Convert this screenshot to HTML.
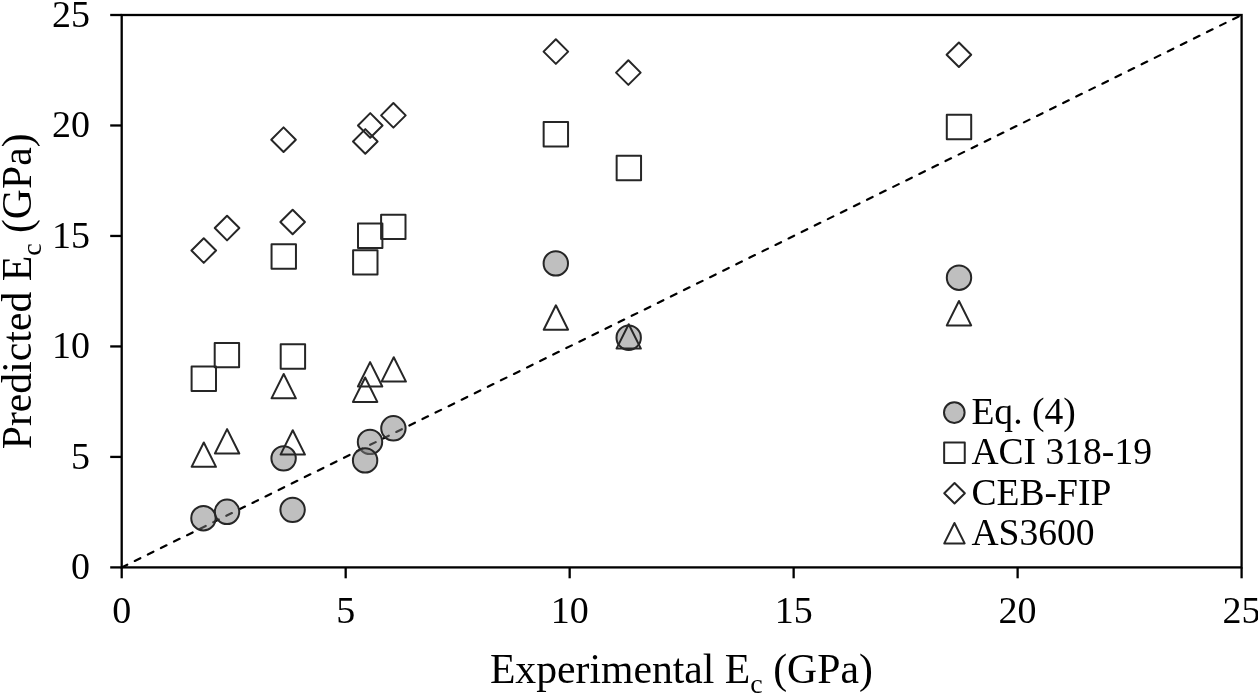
<!DOCTYPE html>
<html><head><meta charset="utf-8"><style>
html,body{margin:0;padding:0;background:#fff;overflow:hidden;}
svg{display:block;will-change:transform;}
text{font-family:"Liberation Serif",serif;fill:#000;}
.t{font-size:38px;}
.lg{font-size:37.6px;}
.ti{font-size:41.7px;}
.sub{font-size:28px;}
</style></head><body>
<svg width="1258" height="695" viewBox="0 0 1258 695">
<line x1="121.70" y1="567.40" x2="1241.60" y2="15.00" stroke="#000" stroke-width="2.2" stroke-linecap="round" stroke-dasharray="6.2 8.38"/>
<circle cx="203.45" cy="518.20" r="12.20" fill="rgba(128,128,128,0.5)" stroke="#262626" stroke-width="2.0"/>
<circle cx="227.05" cy="511.80" r="12.20" fill="rgba(128,128,128,0.5)" stroke="#262626" stroke-width="2.0"/>
<circle cx="283.60" cy="458.35" r="12.20" fill="rgba(128,128,128,0.5)" stroke="#262626" stroke-width="2.0"/>
<circle cx="292.60" cy="509.85" r="12.20" fill="rgba(128,128,128,0.5)" stroke="#262626" stroke-width="2.0"/>
<circle cx="370.00" cy="441.90" r="12.20" fill="rgba(128,128,128,0.5)" stroke="#262626" stroke-width="2.0"/>
<circle cx="365.10" cy="460.40" r="12.20" fill="rgba(128,128,128,0.5)" stroke="#262626" stroke-width="2.0"/>
<circle cx="393.40" cy="428.30" r="12.20" fill="rgba(128,128,128,0.5)" stroke="#262626" stroke-width="2.0"/>
<circle cx="555.80" cy="263.40" r="12.20" fill="rgba(128,128,128,0.5)" stroke="#262626" stroke-width="2.0"/>
<circle cx="628.70" cy="337.70" r="12.20" fill="rgba(128,128,128,0.5)" stroke="#262626" stroke-width="2.0"/>
<circle cx="959.00" cy="277.70" r="12.20" fill="rgba(128,128,128,0.5)" stroke="#262626" stroke-width="2.0"/>
<rect x="191.60" y="366.55" width="24.40" height="24.40" fill="none" stroke="#262626" stroke-width="2.0" stroke-linejoin="round"/>
<rect x="214.70" y="342.90" width="24.40" height="24.40" fill="none" stroke="#262626" stroke-width="2.0" stroke-linejoin="round"/>
<rect x="271.55" y="244.25" width="24.40" height="24.40" fill="none" stroke="#262626" stroke-width="2.0" stroke-linejoin="round"/>
<rect x="280.70" y="344.30" width="24.40" height="24.40" fill="none" stroke="#262626" stroke-width="2.0" stroke-linejoin="round"/>
<rect x="353.10" y="250.20" width="24.40" height="24.40" fill="none" stroke="#262626" stroke-width="2.0" stroke-linejoin="round"/>
<rect x="358.00" y="223.50" width="24.40" height="24.40" fill="none" stroke="#262626" stroke-width="2.0" stroke-linejoin="round"/>
<rect x="381.10" y="214.70" width="24.40" height="24.40" fill="none" stroke="#262626" stroke-width="2.0" stroke-linejoin="round"/>
<rect x="543.65" y="122.05" width="24.40" height="24.40" fill="none" stroke="#262626" stroke-width="2.0" stroke-linejoin="round"/>
<rect x="616.65" y="155.85" width="24.40" height="24.40" fill="none" stroke="#262626" stroke-width="2.0" stroke-linejoin="round"/>
<rect x="946.80" y="114.80" width="24.40" height="24.40" fill="none" stroke="#262626" stroke-width="2.0" stroke-linejoin="round"/>
<path d="M203.75 238.25L216.05 250.55L203.75 262.85L191.45 250.55Z" fill="none" stroke="#262626" stroke-width="2.0" stroke-linejoin="round"/>
<path d="M227.05 215.75L239.35 228.05L227.05 240.35L214.75 228.05Z" fill="none" stroke="#262626" stroke-width="2.0" stroke-linejoin="round"/>
<path d="M283.55 127.40L295.85 139.70L283.55 152.00L271.25 139.70Z" fill="none" stroke="#262626" stroke-width="2.0" stroke-linejoin="round"/>
<path d="M292.65 209.70L304.95 222.00L292.65 234.30L280.35 222.00Z" fill="none" stroke="#262626" stroke-width="2.0" stroke-linejoin="round"/>
<path d="M365.30 129.15L377.60 141.45L365.30 153.75L353.00 141.45Z" fill="none" stroke="#262626" stroke-width="2.0" stroke-linejoin="round"/>
<path d="M370.25 113.15L382.55 125.45L370.25 137.75L357.95 125.45Z" fill="none" stroke="#262626" stroke-width="2.0" stroke-linejoin="round"/>
<path d="M393.40 103.05L405.70 115.35L393.40 127.65L381.10 115.35Z" fill="none" stroke="#262626" stroke-width="2.0" stroke-linejoin="round"/>
<path d="M555.85 39.30L568.15 51.60L555.85 63.90L543.55 51.60Z" fill="none" stroke="#262626" stroke-width="2.0" stroke-linejoin="round"/>
<path d="M628.35 60.30L640.65 72.60L628.35 84.90L616.05 72.60Z" fill="none" stroke="#262626" stroke-width="2.0" stroke-linejoin="round"/>
<path d="M958.90 42.45L971.20 54.75L958.90 67.05L946.60 54.75Z" fill="none" stroke="#262626" stroke-width="2.0" stroke-linejoin="round"/>
<path d="M203.80 442.45L216.00 466.85L191.60 466.85Z" fill="none" stroke="#262626" stroke-width="2.0" stroke-linejoin="round"/>
<path d="M227.10 429.15L239.30 453.55L214.90 453.55Z" fill="none" stroke="#262626" stroke-width="2.0" stroke-linejoin="round"/>
<path d="M283.70 373.95L295.90 398.35L271.50 398.35Z" fill="none" stroke="#262626" stroke-width="2.0" stroke-linejoin="round"/>
<path d="M292.75 430.20L304.95 454.60L280.55 454.60Z" fill="none" stroke="#262626" stroke-width="2.0" stroke-linejoin="round"/>
<path d="M365.15 377.50L377.35 401.90L352.95 401.90Z" fill="none" stroke="#262626" stroke-width="2.0" stroke-linejoin="round"/>
<path d="M370.10 362.15L382.30 386.55L357.90 386.55Z" fill="none" stroke="#262626" stroke-width="2.0" stroke-linejoin="round"/>
<path d="M393.75 357.20L405.95 381.60L381.55 381.60Z" fill="none" stroke="#262626" stroke-width="2.0" stroke-linejoin="round"/>
<path d="M555.90 305.30L568.10 329.70L543.70 329.70Z" fill="none" stroke="#262626" stroke-width="2.0" stroke-linejoin="round"/>
<path d="M628.70 324.20L640.90 348.60L616.50 348.60Z" fill="none" stroke="#262626" stroke-width="2.0" stroke-linejoin="round"/>
<path d="M958.98 301.00L971.18 325.40L946.78 325.40Z" fill="none" stroke="#262626" stroke-width="2.0" stroke-linejoin="round"/>
<rect x="121.70" y="15.00" width="1119.90" height="552.40" fill="none" stroke="#000" stroke-width="2.3"/>
<line x1="110.2" y1="567.40" x2="121.70" y2="567.40" stroke="#000" stroke-width="2.3"/>
<line x1="121.70" y1="567.40" x2="121.70" y2="578.3" stroke="#000" stroke-width="2.3"/>
<line x1="110.2" y1="456.92" x2="121.70" y2="456.92" stroke="#000" stroke-width="2.3"/>
<line x1="345.68" y1="567.40" x2="345.68" y2="578.3" stroke="#000" stroke-width="2.3"/>
<line x1="110.2" y1="346.44" x2="121.70" y2="346.44" stroke="#000" stroke-width="2.3"/>
<line x1="569.66" y1="567.40" x2="569.66" y2="578.3" stroke="#000" stroke-width="2.3"/>
<line x1="110.2" y1="235.96" x2="121.70" y2="235.96" stroke="#000" stroke-width="2.3"/>
<line x1="793.64" y1="567.40" x2="793.64" y2="578.3" stroke="#000" stroke-width="2.3"/>
<line x1="110.2" y1="125.48" x2="121.70" y2="125.48" stroke="#000" stroke-width="2.3"/>
<line x1="1017.62" y1="567.40" x2="1017.62" y2="578.3" stroke="#000" stroke-width="2.3"/>
<line x1="110.2" y1="15.00" x2="121.70" y2="15.00" stroke="#000" stroke-width="2.3"/>
<line x1="1241.60" y1="567.40" x2="1241.60" y2="578.3" stroke="#000" stroke-width="2.3"/>
<text x="89.9" y="579.40" text-anchor="end" class="t">0</text>
<text x="121.70" y="622.6" text-anchor="middle" class="t">0</text>
<text x="89.9" y="468.92" text-anchor="end" class="t">5</text>
<text x="345.68" y="622.6" text-anchor="middle" class="t">5</text>
<text x="89.9" y="358.44" text-anchor="end" class="t">10</text>
<text x="569.66" y="622.6" text-anchor="middle" class="t">10</text>
<text x="89.9" y="247.96" text-anchor="end" class="t">15</text>
<text x="793.64" y="622.6" text-anchor="middle" class="t">15</text>
<text x="89.9" y="137.48" text-anchor="end" class="t">20</text>
<text x="1017.62" y="622.6" text-anchor="middle" class="t">20</text>
<text x="89.9" y="27.00" text-anchor="end" class="t">25</text>
<text x="1241.60" y="622.6" text-anchor="middle" class="t">25</text>
<text x="489.9" y="682.5" class="ti">Experimental E<tspan class="sub" dy="10">c</tspan><tspan dy="-10"> (GPa)</tspan></text>
<text transform="translate(30.6 449.2) rotate(-90)" class="ti">Predicted E<tspan class="sub" dy="10">c</tspan><tspan dy="-10"> (GPa)</tspan></text>
<circle cx="954.30" cy="412.60" r="10.30" fill="rgba(128,128,128,0.5)" stroke="#262626" stroke-width="2.0"/>
<rect x="944.15" y="442.40" width="20.60" height="20.60" fill="none" stroke="#262626" stroke-width="2.0" stroke-linejoin="round"/>
<path d="M954.55 482.95L964.85 493.25L954.55 503.55L944.25 493.25Z" fill="none" stroke="#262626" stroke-width="2.0" stroke-linejoin="round"/>
<path d="M954.45 523.00L964.65 543.40L944.25 543.40Z" fill="none" stroke="#262626" stroke-width="2.0" stroke-linejoin="round"/>
<text x="971.4" y="424.40" class="lg">Eq. (4)</text>
<text x="971.4" y="464.47" class="lg">ACI 318-19</text>
<text x="971.4" y="504.54" class="lg">CEB-FIP</text>
<text x="971.4" y="544.61" class="lg">AS3600</text>
</svg>
</body></html>
